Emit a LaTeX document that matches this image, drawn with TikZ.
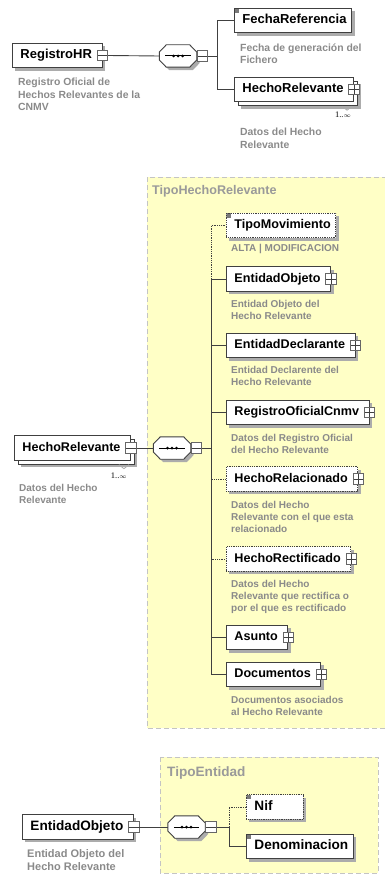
\documentclass[tikz,border=0pt]{standalone}
\usepackage{fontspec}
\setmainfont{Liberation Sans}
\newfontfamily\occfont{Liberation Serif}
\usetikzlibrary{positioning,shadows,calc}
\definecolor{grpfill}{HTML}{FFFFC6}
\definecolor{grpline}{HTML}{C4C4C4}
\definecolor{desccol}{HTML}{8A8A8A}
\definecolor{grpcol}{HTML}{9A9A9A}
\definecolor{linecol}{HTML}{404040}
\definecolor{shadecol}{HTML}{ACACAC}
\begin{document}
\begin{tikzpicture}[x=1pt, y=-1pt,
  nsize/.store in=\nsize, dsize/.store in=\dsize, nsize=12.6, dsize=10,
  box/.style = {draw=linecol, line width=.9pt, fill=white, rectangle, minimum height=24.5pt, minimum width=56pt, inner xsep=5pt, inner ysep=0pt, text height=9.4pt, text depth=2.8pt, font=\fontsize{\nsize}{\nsize}\selectfont\bfseries, execute at begin node={\kern3pt}},
  main/.style = {box, drop shadow={shadow xshift=3pt, shadow yshift=-3pt, fill=shadecol, opacity=1}},
  multi/.style = {box, drop shadow={shadow xshift=7pt, shadow yshift=-7pt, fill=shadecol, opacity=1}, copy shadow={shadow xshift=4pt, shadow yshift=-4pt, draw=linecol, fill=white}},
  kids/.style = {execute at end node={\kern5pt}},
  opt/.style = {dash pattern=on .9pt off .9pt},
  simple/.style = {path picture={\fill[linecol!70] (path picture bounding box.north west) rectangle +(4.5pt,-4.5pt);}},
  xbox/.style = {draw=linecol!80, line width=.8pt, fill=white, rectangle, minimum size=10.5pt, inner sep=0pt},
  xminus/.style = {xbox, path picture={\draw[linecol, line width=.8pt] (path picture bounding box.west) -- (path picture bounding box.east);}},
  xplus/.style = {xbox, path picture={\draw[linecol, line width=.8pt] (path picture bounding box.west) -- (path picture bounding box.east) (path picture bounding box.north) -- (path picture bounding box.south);}},
  seq/.style = {rectangle, minimum width=37pt, minimum height=22pt, inner sep=0pt,
    append after command={\pgfextra{
      \draw[draw=linecol, line width=.9pt, fill=white, drop shadow={shadow xshift=3pt, shadow yshift=-3pt, fill=shadecol, opacity=1}]
        ([yshift=4pt]\tikzlastnode.west) -- ([xshift=7pt]\tikzlastnode.north west) -- ([xshift=-7pt]\tikzlastnode.north east)
        -- ([yshift=4pt]\tikzlastnode.east) -- ([yshift=-4pt]\tikzlastnode.east) -- ([xshift=-7pt]\tikzlastnode.south east)
        -- ([xshift=7pt]\tikzlastnode.south west) -- ([yshift=-4pt]\tikzlastnode.west) -- cycle;
      \draw[black, line width=1pt] ([xshift=6pt]\tikzlastnode.west) -- ([xshift=-6pt]\tikzlastnode.east);
      \foreach \d in {-4.5,0,4.5} \fill[black] ([xshift=\d pt]\tikzlastnode.center) circle (1.5pt);}}},
  desc/.style = {align=left, inner sep=0pt, text=desccol, font=\fontsize{\dsize}{12.3}\selectfont\bfseries},
  occ/.style = {inner sep=0pt, font=\occfont\fontsize{8.5}{9}\selectfont},
  conn/.style = {draw=linecol, line width=.9pt},
  grp/.style = {fill=grpfill, draw=grpline, line width=1pt, dash pattern=on 5pt off 3pt},
  grplabel/.style = {anchor=west, inner sep=0pt, text=grpcol, font=\fontsize{\nsize}{\nsize}\selectfont\bfseries}]

\useasboundingbox (0,0) rectangle (385,875);

\begin{scope}[nsize=13, dsize=10.4]
\node[main, kids, anchor=west] (reg) at (12,55.5) {RegistroHR};
\node[xminus] (regx) at (reg.east) {};
\node[desc, below right=10pt and 6pt of reg.south west] (regd) {Registro Oficial de\\Hechos Relevantes de la\\CNMV};
\node[seq] (seq1) at (178,56) {};
\node[xminus, right=0pt of seq1] (seq1x) {};
\coordinate (j1) at (217,56);
\node[main, simple, anchor=west] (fecha) at (234,20.5) {FechaReferencia};
\node[desc, below right=10pt and 6pt of fecha.south west] (fechad) {Fecha de generación del\\Fichero};
\node[multi, kids, anchor=west] (hecho) at (234,89.5) {HechoRelevante};
\node[xplus] (hechox) at (hecho.east) {};
\draw[shadecol, line width=.8pt] ($(hecho.south east)+(-12,4)$) -- ++(5,4) -- ++(5,-4);
\node[occ, anchor=east] (hechoo) at ($(hecho.south east)+(-3,13)$) {1..$\scriptstyle\infty$};
\node[desc, below right=26pt and 6pt of hecho.south west] (hechod) {Datos del Hecho\\Relevante};
\draw[conn] (regx.east) -- (seq1.west);
\draw[conn] (seq1x.east) -- (j1);
\draw[conn] (j1) |- (fecha.west);
\draw[conn] (j1) |- (hecho.west);
\end{scope}

\begin{scope}[nsize=12.6, dsize=10]
\draw[grp] (147,177) rectangle (392,728);
\node[grplabel] (tipo1) at (152,191) {TipoHechoRelevante};
\node[multi, kids, anchor=west] (hecho2) at (14,448) {HechoRelevante};
\node[xminus] (hecho2x) at (hecho2.east) {};
\draw[shadecol, line width=.8pt] ($(hecho2.south east)+(-12,4)$) -- ++(5,4) -- ++(5,-4);
\node[occ, anchor=east] (hecho2o) at ($(hecho2.south east)+(-4,15)$) {1..$\scriptstyle\infty$};
\node[desc, below right=23pt and 5pt of hecho2.south west] (hecho2d) {Datos del Hecho\\Relevante};
\node[seq] (seq2) at (172,448) {};
\node[xminus, right=0pt of seq2] (seq2x) {};
\coordinate (j2) at (211,448);
\node[main, simple, opt, anchor=west] (tm) at (226,225.5) {TipoMovimiento};
\node[desc, below right=6pt and 5pt of tm.south west] (tmd) {ALTA | MODIFICACION};
\node[main, kids, anchor=west] (eo) at (226,279) {EntidadObjeto};
\node[xplus] (eox) at (eo.east) {};
\node[desc, below right=8pt and 5pt of eo.south west] (eod) {Entidad Objeto del\\Hecho Relevante};
\node[main, kids, anchor=west] (ed) at (226,345.5) {EntidadDeclarante};
\node[xplus] (edx) at (ed.east) {};
\node[desc, below right=8pt and 5pt of ed.south west] (edd) {Entidad Declarente del\\Hecho Relevante};
\node[main, kids, anchor=west] (roc) at (226,412.5) {RegistroOficialCnmv};
\node[xplus] (rocx) at (roc.east) {};
\node[desc, below right=9pt and 5pt of roc.south west] (rocd) {Datos del Registro Oficial\\del Hecho Relevante};
\node[main, kids, opt, anchor=west] (hrel) at (226,479) {HechoRelacionado};
\node[xplus] (hrelx) at (hrel.east) {};
\node[desc, below right=9pt and 5pt of hrel.south west] (hreld) {Datos del Hecho\\Relevante con el que esta\\relacionado};
\node[main, kids, opt, anchor=west] (hrec) at (226,559) {HechoRectificado};
\node[xplus] (hrecx) at (hrec.east) {};
\node[desc, below right=8pt and 5pt of hrec.south west] (hrecd) {Datos del Hecho\\Relevante que rectifica o\\por el que es rectificado};
\node[main, kids, anchor=west] (asu) at (226,637.5) {Asunto};
\node[xplus] (asux) at (asu.east) {};
\node[main, kids, anchor=west] (doc) at (226,674.5) {Documentos};
\node[xplus] (docx) at (doc.east) {};
\node[desc, below right=9pt and 5pt of doc.south west] (docd) {Documentos asociados\\al Hecho Relevante};
\draw[conn] (hecho2x.east) -- (seq2.west);
\draw[conn] (seq2x.east) -- (j2);
\draw[conn, opt] (j2) |- (tm.west);
\draw[conn, opt] (j2) |- (hrel.west);
\draw[conn, opt] (j2) |- (hrec.west);
\foreach \k in {eo,ed,roc,asu,doc} \draw[conn] (j2) |- (\k.west);
\end{scope}

\begin{scope}[nsize=13.6, dsize=11]
\draw[grp] (160,757) rectangle (378,873);
\node[grplabel] (tipo2) at (167,773) {TipoEntidad};
\node[main, kids, anchor=west] (eo3) at (22,827) {EntidadObjeto};
\node[xminus] (eo3x) at (eo3.east) {};
\node[desc, below right=10pt and 5pt of eo3.south west] (eo3d) {Entidad Objeto del\\Hecho Relevante};
\node[seq] (seq3) at (186.5,827) {};
\node[xminus, right=0pt of seq3] (seq3x) {};
\coordinate (j3) at (229,827);
\node[main, simple, opt, text width=47pt, anchor=west] (nif) at (246,807) {Nif};
\node[main, simple, anchor=west] (den) at (246,846.5) {Denominacion};
\draw[conn] (eo3x.east) -- (seq3.west);
\draw[conn] (seq3x.east) -- (j3);
\draw[conn, opt] (j3) |- (nif.west);
\draw[conn] (j3) |- (den.west);
\end{scope}
\end{tikzpicture}
\end{document}
